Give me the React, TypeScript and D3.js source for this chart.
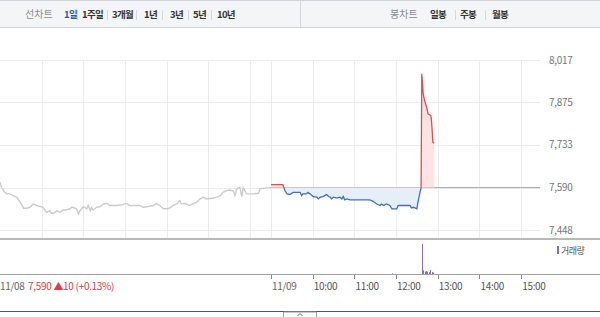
import React from "react";
import * as d3 from "d3";

const PRICE_TICKS = [7448, 7590, 7733, 7875, 8017];
const BASE_PRICE = 7590;
const DAY_MINUTES = 390;

// previous day (11/08), minutes since 09:00
const day1Minutes = [0,2,7,10,14,19,24,29,34,38,43,48,53,62,67,72,74,77,82,86,91,96,101,103,105,110,113,115,120,125,127,130,132,134,139,144,149,154,158,168,177,182,187,201,206,211,221,225,230,235,240,245,249,254,259,261,266,273,283,288,293,297,307,312,317,321,326,331,336,338,341,345,348,350,355,365,372,374,384,390];
const day1Prices = [7608,7591,7574,7569,7569,7563,7558,7541,7521,7521,7524,7535,7530,7524,7507,7513,7504,7504,7513,7507,7515,7516,7519,7524,7524,7519,7502,7513,7526,7519,7530,7513,7524,7515,7524,7526,7535,7537,7530,7530,7533,7537,7530,7530,7524,7526,7530,7537,7530,7519,7519,7522,7530,7535,7546,7535,7537,7530,7541,7552,7558,7552,7555,7558,7563,7574,7580,7582,7578,7563,7586,7591,7560,7589,7569,7569,7571,7586,7589,7590];

// current day (11/09), minutes since 09:00
const day2Minutes = [0,17,20,23,27,32,42,44,46,51,53,56,61,66,68,71,75,80,83,85,87,90,95,99,102,104,106,109,114,142,147,152,157,159,162,166,171,174,181,183,200,202,205,207,210,211,213,214,216,217,219,221,224,226,230,231,233,235];
const day2Prices = [7600,7600,7580,7569,7567,7574,7574,7563,7569,7569,7574,7569,7560,7558,7552,7558,7560,7567,7560,7558,7552,7558,7555,7558,7552,7560,7549,7552,7549,7549,7544,7535,7530,7535,7530,7535,7530,7519,7519,7530,7530,7522,7524,7522,7519,7535,7558,7569,7590,7971,7904,7881,7859,7837,7831,7814,7742,7738];

const volMinutes = [174,217,218,219,221,223,225,227,229,231,233];
const volValues = [2,100,28,12,8,10,7,6,13,7,5];

const dayLabels = ["11/08", "11/09"];
const hourOffsets = [60, 120, 180, 240, 300, 360];
const hourLabels = ["10:00", "11:00", "12:00", "13:00", "14:00", "15:00"];
const prevInfo = "7,590 ▲10 (+0.13%)";

const periodTabs = ["1일", "1주일", "3개월", "1년", "3년", "5년", "10년"];
const periodX = [64, 82, 112, 144, 170, 193, 217];
const candleTabs = ["일봉", "주봉", "월봉"];
const candleX = [430, 460, 492];

const W = 600;
const H = 317;
const FONT = "'Noto Sans CJK KR', 'Noto Sans', sans-serif";

export default function App() {
  const x = d3.scaleLinear().domain([0, DAY_MINUTES * 2]).range([0, 542]);
  const y = d3.scaleLinear().domain([7448, 8017]).range([230, 60]);
  const yVol = d3.scaleLinear().domain([0, d3.max(volValues) as number]).range([274, 244]);
  const yBase = y(BASE_PRICE);

  const d1 = day1Minutes.map((m, i) => [x(m), y(day1Prices[i])] as [number, number]);
  const d2 = day2Minutes.map((m, i) => [x(DAY_MINUTES + m), y(day2Prices[i])] as [number, number]);
  const line = d3.line<[number, number]>().x((d) => d[0]).y((d) => d[1]);
  const area = d3
    .area<[number, number]>()
    .x((d) => d[0])
    .y0(yBase)
    .y1((d) => d[1]);

  const gridHours: number[] = [];
  for (const off of hourOffsets) gridHours.push(off);
  gridHours.push(DAY_MINUTES);
  for (const off of hourOffsets) gridHours.push(DAY_MINUTES + off);

  const sepX1 = [77, 107, 136, 162, 188, 211];
  const sepX2 = [455, 485];

  return (
    <div style={{ position: "fixed", left: 0, top: 0, width: W, height: H, background: "#fff" }}>
      <svg width={W} height={H} style={{ display: "block", fontFamily: FONT }}>
        <defs>
          <clipPath id="above">
            <rect x={0} y={0} width={W} height={yBase} />
          </clipPath>
          <clipPath id="below">
            <rect x={0} y={yBase} width={W} height={238 - yBase} />
          </clipPath>
        </defs>

        {/* top bar */}
        <rect x={0} y={0} width={W} height={27} fill="#f4f5f7" />
        <line x1={0} x2={W} y1={0.5} y2={0.5} stroke="#cfd2d6" />
        <line x1={0} x2={W} y1={27.5} y2={27.5} stroke="#cfd2d6" />
        <line x1={300.5} x2={300.5} y1={0} y2={27} stroke="#d6d8dc" />
        <text x={25} y={18} fontSize={10} fill="#8a8d92">선차트</text>
        {periodTabs.map((t, i) => (
          <text key={t} x={periodX[i]} y={18} fontSize={9.5} fontWeight="bold" letterSpacing={-0.7}
            fill={i === 0 ? "#2c5aa8" : "#333"}>{t}</text>
        ))}
        {sepX1.map((sx) => (
          <line key={sx} x1={sx + 0.5} x2={sx + 0.5} y1={10} y2={20} stroke="#d5d7db" />
        ))}
        <text x={390} y={18} fontSize={10} fill="#8a8d92">봉차트</text>
        {candleTabs.map((t, i) => (
          <text key={t} x={candleX[i]} y={18} fontSize={9.5} fontWeight="bold" letterSpacing={-0.7} fill="#333">{t}</text>
        ))}
        {sepX2.map((sx) => (
          <line key={sx} x1={sx + 0.5} x2={sx + 0.5} y1={10} y2={20} stroke="#d5d7db" />
        ))}

        {/* grid */}
        {PRICE_TICKS.map((p) => (
          <line key={p} x1={0} x2={540} y1={Math.round(y(p)) + 0.5} y2={Math.round(y(p)) + 0.5} stroke="#ececec" />
        ))}
        {gridHours.map((m) => (
          <line key={m} x1={Math.round(x(m)) + 0.5} x2={Math.round(x(m)) + 0.5} y1={60} y2={238} stroke="#ececec" />
        ))}
        {PRICE_TICKS.map((p) => (
          <text key={p} x={549} y={y(p) + 3.5} fontSize={10} fill="#777" letterSpacing={-0.3}>
            {d3.format(",")(p)}
          </text>
        ))}

        {/* previous day */}
        <path d={line(d1) || ""} fill="none" stroke="#cccccc" strokeWidth={1.4} />

        {/* base line */}
        <line x1={x(DAY_MINUTES)} x2={540} y1={yBase} y2={yBase} stroke="#a9a9a9" strokeWidth={1} />

        {/* current day */}
        <path d={area(d2) || ""} fill="#fde3e3" clipPath="url(#above)" />
        <path d={area(d2) || ""} fill="#e6eefa" clipPath="url(#below)" />
        <path d={line(d2) || ""} fill="none" stroke="#e5484d" strokeWidth={1.3} clipPath="url(#above)" />
        <path d={line(d2) || ""} fill="none" stroke="#3e6fc2" strokeWidth={1.3} clipPath="url(#below)" />

        {/* panel separator */}
        <rect x={0} y={238} width={W} height={2} fill="#b8b8b8" />

        {/* volume */}
        {volMinutes.map((m, i) => (
          <rect key={m} x={Math.round(x(DAY_MINUTES + m))} y={yVol(volValues[i])} width={1}
            height={274 - yVol(volValues[i])} fill="#7d6fd2" />
        ))}
        <rect x={557} y={246} width={2} height={8} fill="#7d6fd2" />
        <text x={561} y={253.5} fontSize={9} fill="#555" letterSpacing={-0.5}>거래량</text>

        {/* x axis */}
        <line x1={0} x2={W} y1={274.5} y2={274.5} stroke="#a0a0a0" />
        {[DAY_MINUTES, ...hourOffsets.map((o) => DAY_MINUTES + o)].map((m) => (
          <line key={m} x1={Math.round(x(m)) + 0.5} x2={Math.round(x(m)) + 0.5} y1={275} y2={279} stroke="#888" />
        ))}
        <text x={0} y={290} fontSize={10} fill="#666" letterSpacing={-0.3}>{dayLabels[0]}</text>
        <text x={28} y={290} fontSize={10} fill="#e03c3c" letterSpacing={-0.3}>{prevInfo}</text>
        <text x={x(DAY_MINUTES) + 1} y={290} fontSize={10} fill="#666" letterSpacing={-0.3}>{dayLabels[1]}</text>
        {hourOffsets.map((o, i) => (
          <text key={o} x={x(DAY_MINUTES + o) + 1} y={290} fontSize={10} fill="#555" letterSpacing={-0.3}>
            {hourLabels[i]}
          </text>
        ))}

        {/* bottom bar */}
        <line x1={0} x2={W} y1={311.5} y2={311.5} stroke="#555" />
        <path d="M283.5,317 V312 H316.5 V317" fill="#fff" stroke="#999" />
        <path d="M297.5,316 L300,313.5 L302.5,316" fill="none" stroke="#777" />
      </svg>
    </div>
  );
}
